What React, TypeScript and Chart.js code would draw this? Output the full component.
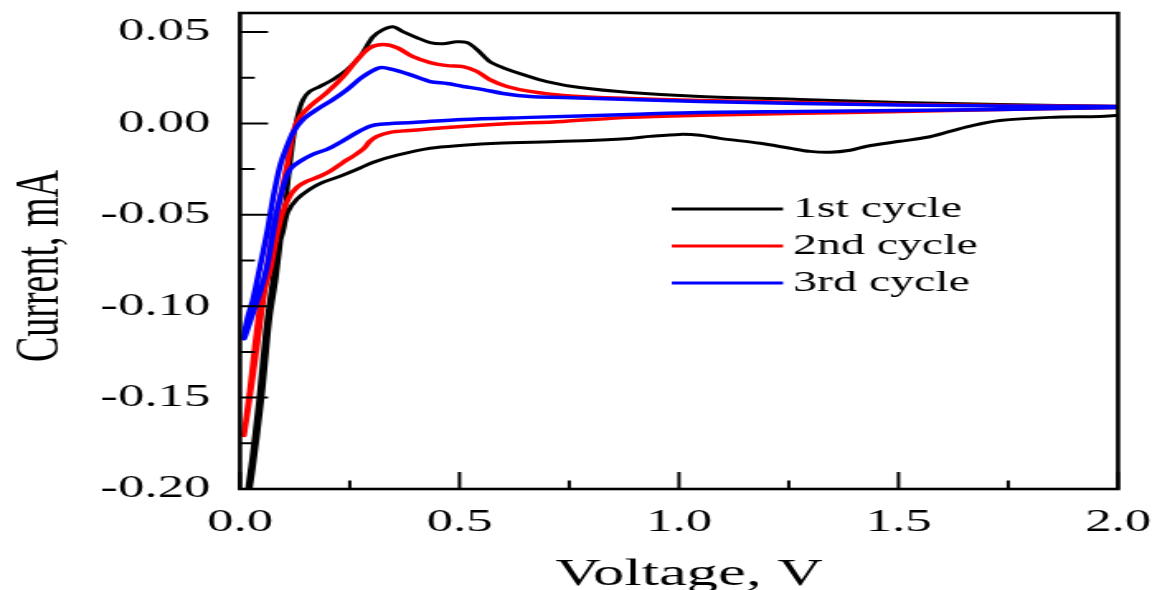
import React, { useEffect, useRef } from 'react';
import { Chart, registerables } from 'chart.js';

Chart.register(...registerables);

// ---- data ----
const X_TICKS = [0, 0.5, 1.0, 1.5, 2.0];
const X_MINOR = [0.25, 0.75, 1.25, 1.75];
const Y_TICKS = [-0.2, -0.15, -0.1, -0.05, 0, 0.05];
const Y_MINOR = [-0.175, -0.125, -0.075, -0.025, 0.025];
const X_MIN = 0;
const X_MAX = 2;
const Y_MIN = -0.2;
const Y_MAX = 0.0604;

const SERIES_LABELS = ['1st cycle', '2nd cycle', '3rd cycle'];
const SERIES_COLORS = ['#000000', '#ff0000', '#0000ff'];
const X_TITLE = 'Voltage, V';
const Y_TITLE = 'Current, mA';

// 1st cycle: cathodic (2.0 -> 0.01) then anodic (0.01 -> 2.0)
const V1 = [
  2.0, 1.959, 1.845, 1.731, 1.67, 1.617, 1.565, 1.503, 1.428, 1.39, 1.344, 1.298, 1.253, 1.185, 1.093,
  1.048, 1.002, 0.934, 0.888, 0.736, 0.585, 0.508, 0.433, 0.358, 0.303, 0.267, 0.228, 0.189, 0.159,
  0.13, 0.109, 0.098, 0.087, 0.075, 0.059, 0.043, 0.027, 0.018, 0.012,
  0.03, 0.05, 0.068, 0.082, 0.093, 0.105, 0.114, 0.123, 0.132, 0.144, 0.159, 0.182, 0.212, 0.244,
  0.273, 0.303, 0.326, 0.349, 0.371, 0.403, 0.433, 0.462, 0.494, 0.517, 0.54, 0.569, 0.599, 0.645,
  0.699, 0.774, 0.888, 1.048, 1.276, 1.503, 1.731, 2.0,
];
const I1 = [
  0.0044, 0.0038, 0.0033, 0.0016, -0.0011, -0.0044, -0.0076, -0.0098, -0.0125, -0.0147, -0.0158,
  -0.0153, -0.0136, -0.0109, -0.0082, -0.0065, -0.006, -0.0071, -0.0082, -0.0098, -0.0109, -0.012,
  -0.0136, -0.0174, -0.0213, -0.0251, -0.0289, -0.0322, -0.036, -0.0414, -0.0485, -0.0594, -0.0687,
  -0.0851, -0.1123, -0.1505, -0.1832, -0.199, -0.215,
  -0.1887, -0.1505, -0.1069, -0.0851, -0.0633, -0.0414, -0.0224, -0.006, 0.0049, 0.0131, 0.0175,
  0.0202, 0.024, 0.0294, 0.0365, 0.0474, 0.0513, 0.0529, 0.0502, 0.0469, 0.0442, 0.0436, 0.0447,
  0.0442, 0.0404, 0.0338, 0.0305, 0.0267, 0.0229, 0.0196, 0.0169, 0.0147, 0.0131, 0.0115, 0.0104,
  0.0093,
];

// 2nd cycle
const V2 = [
  2.0, 1.731, 1.503, 1.276, 1.048, 0.888, 0.736, 0.585, 0.472, 0.394, 0.342, 0.312, 0.296, 0.28,
  0.257, 0.235, 0.205, 0.182, 0.153, 0.13, 0.112, 0.096, 0.082, 0.071, 0.057, 0.039, 0.023, 0.009,
  0.023, 0.036, 0.048, 0.062, 0.075, 0.091, 0.107, 0.121, 0.137, 0.159, 0.198, 0.235, 0.267, 0.296,
  0.326, 0.358, 0.394, 0.433, 0.472, 0.508, 0.54, 0.569, 0.608, 0.661, 0.736, 0.888, 1.048, 1.276,
  1.503, 1.731, 2.0,
];
const I2 = [
  0.0087, 0.0076, 0.0065, 0.0055, 0.0044, 0.0033, 0.0011, -0.0005, -0.0022, -0.0038, -0.0049,
  -0.0071, -0.0098, -0.0142, -0.018, -0.0213, -0.0262, -0.0289, -0.0316, -0.0349, -0.0404, -0.0496,
  -0.0633, -0.078, -0.0905, -0.1216, -0.1489, -0.1707,
  -0.145, -0.1178, -0.096, -0.078, -0.0594, -0.0414, -0.0234, -0.0049, 0.0038, 0.0093, 0.0169,
  0.0256, 0.0349, 0.0414, 0.0431, 0.0414, 0.0365, 0.0333, 0.0316, 0.0311, 0.0284, 0.024, 0.0202,
  0.0175, 0.0153, 0.0136, 0.0125, 0.0115, 0.0104, 0.0098, 0.0093,
];

// 3rd cycle
const V3 = [
  2.0, 1.731, 1.503, 1.276, 1.048, 0.888, 0.661, 0.508, 0.394, 0.319, 0.296, 0.267, 0.228, 0.198,
  0.166, 0.137, 0.114, 0.098, 0.084, 0.073, 0.062, 0.046, 0.025, 0.009,
  0.018, 0.03, 0.046, 0.062, 0.075, 0.091, 0.107, 0.121, 0.144, 0.175, 0.212, 0.244, 0.28, 0.319,
  0.349, 0.387, 0.433, 0.472, 0.508, 0.554, 0.599, 0.661, 0.736, 0.888, 1.048, 1.276, 1.503, 1.731,
  2.0,
];
const I3 = [
  0.0087, 0.0076, 0.0071, 0.0065, 0.006, 0.0049, 0.0033, 0.0022, 0.0005, -0.0005, -0.0016, -0.0049,
  -0.0104, -0.0142, -0.0169, -0.0207, -0.0251, -0.0349, -0.0485, -0.0633, -0.078, -0.0922, -0.1069,
  -0.1178,
  -0.1058, -0.096, -0.078, -0.0594, -0.0414, -0.0234, -0.0125, -0.0049, 0.0022, 0.0076, 0.0131,
  0.0185, 0.0256, 0.0305, 0.0294, 0.0267, 0.0229, 0.0218, 0.0202, 0.0185, 0.0164, 0.0147, 0.0142,
  0.0131, 0.012, 0.0109, 0.0101, 0.0095, 0.0093,
];

const SERIES_V = [V1, V2, V3];
const SERIES_I = [I1, I2, I3];

// ---- layout (canvas is drawn narrow and stretched horizontally, like the reference) ----
const CW = 698;
const CH = 590;
const SW = 1152;
const FONT = "'Liberation Serif', 'Times New Roman', serif";

const decorPlugin = {
  id: 'decor',
  afterDraw(chart: any) {
    const { ctx, chartArea: a, scales } = chart;
    const xs = scales.x;
    const ys = scales.y;
    ctx.save();
    ctx.strokeStyle = '#000';
    ctx.lineWidth = 2;
    ctx.lineCap = 'butt';
    ctx.beginPath();
    X_TICKS.forEach((v) => {
      const px = xs.getPixelForValue(v);
      ctx.moveTo(px, a.bottom);
      ctx.lineTo(px, a.bottom - 17);
    });
    X_MINOR.forEach((v) => {
      const px = xs.getPixelForValue(v);
      ctx.moveTo(px, a.bottom);
      ctx.lineTo(px, a.bottom - 8.5);
    });
    Y_TICKS.forEach((v) => {
      const py = ys.getPixelForValue(v);
      ctx.moveTo(a.left, py);
      ctx.lineTo(a.left + 17, py);
    });
    Y_MINOR.forEach((v) => {
      const py = ys.getPixelForValue(v);
      ctx.moveTo(a.left, py);
      ctx.lineTo(a.left + 9, py);
    });
    ctx.stroke();
    ctx.lineWidth = 2.6;
    ctx.lineJoin = 'miter';
    ctx.strokeRect(a.left, a.top, a.right - a.left, a.bottom - a.top);

    // axis titles
    ctx.fillStyle = '#000';
    ctx.font = `38px ${FONT}`;
    ctx.textAlign = 'center';
    ctx.textBaseline = 'alphabetic';
    ctx.fillText(X_TITLE, 417.5, 585);
    ctx.save();
    ctx.translate(34.5, 266);
    ctx.rotate(-Math.PI / 2);
    ctx.fillText(Y_TITLE, 0, 0);
    ctx.restore();

    // legend
    ctx.font = `29px ${FONT}`;
    ctx.textAlign = 'left';
    ctx.textBaseline = 'middle';
    chart.data.datasets.forEach((ds: any, i: number) => {
      const y = 209 + 37 * i;
      ctx.strokeStyle = ds.borderColor;
      ctx.lineWidth = 3;
      ctx.beginPath();
      ctx.moveTo(407, y);
      ctx.lineTo(474.4, y);
      ctx.stroke();
      ctx.fillStyle = '#000';
      ctx.fillText(ds.label, 480.5, y + 0.5);
    });
    ctx.restore();
  },
};

const zeroPad = (s: any) => {
  s.paddingLeft = 0;
  s.paddingRight = 0;
  s.paddingTop = 0;
  s.paddingBottom = 0;
};

export default function App() {
  const ref = useRef<HTMLCanvasElement | null>(null);

  useEffect(() => {
    if (!ref.current) return;
    const datasets = SERIES_LABELS.map((label, k) => ({
      label,
      data: SERIES_V[k].map((x, j) => ({ x, y: SERIES_I[k][j] })),
      borderColor: SERIES_COLORS[k],
      backgroundColor: SERIES_COLORS[k],
      borderWidth: k === 0 ? 3 : 3.5,
      pointRadius: 0,
      tension: 0.3,
      fill: false,
      order: 3 - k,
    }));
    const chart = new Chart(ref.current, {
      type: 'line',
      data: { datasets },
      plugins: [decorPlugin],
      options: {
        animation: false,
        responsive: false,
        devicePixelRatio: 1,
        layout: { padding: { left: 0, top: 13, right: 20.6, bottom: 0 } },
        plugins: { legend: { display: false }, tooltip: { enabled: false } },
        scales: {
          x: {
            type: 'linear',
            min: X_MIN,
            max: X_MAX,
            afterBuildTicks: (s: any) => {
              s.ticks = X_TICKS.map((value) => ({ value }));
            },
            afterFit: (s: any) => {
              s.height = 101;
              zeroPad(s);
            },
            grid: { display: false, drawTicks: false },
            border: { display: false },
            ticks: {
              padding: 14,
              maxRotation: 0,
              autoSkip: false,
              color: '#000',
              font: { family: FONT, size: 32 },
              callback: (v: any) => Number(v).toFixed(1),
            },
          },
          y: {
            type: 'linear',
            min: Y_MIN,
            max: Y_MAX,
            afterBuildTicks: (s: any) => {
              s.ticks = Y_TICKS.map((value) => ({ value }));
            },
            afterFit: (s: any) => {
              s.width = 145.4;
              zeroPad(s);
            },
            grid: { display: false, drawTicks: false },
            border: { display: false },
            ticks: {
              padding: 18,
              autoSkip: false,
              color: '#000',
              font: { family: FONT, size: 32 },
              callback: (v: any) => Number(v).toFixed(2),
            },
          },
        },
      } as any,
    });
    return () => chart.destroy();
  }, []);

  return (
    <div
      style={{
        position: 'fixed',
        left: 0,
        top: 0,
        width: SW,
        height: CH,
        overflow: 'hidden',
        background: '#fff',
      }}
    >
      <canvas
        ref={ref}
        width={CW}
        height={CH}
        style={{ width: `${SW}px`, height: `${CH}px`, display: 'block' }}
      />
    </div>
  );
}
